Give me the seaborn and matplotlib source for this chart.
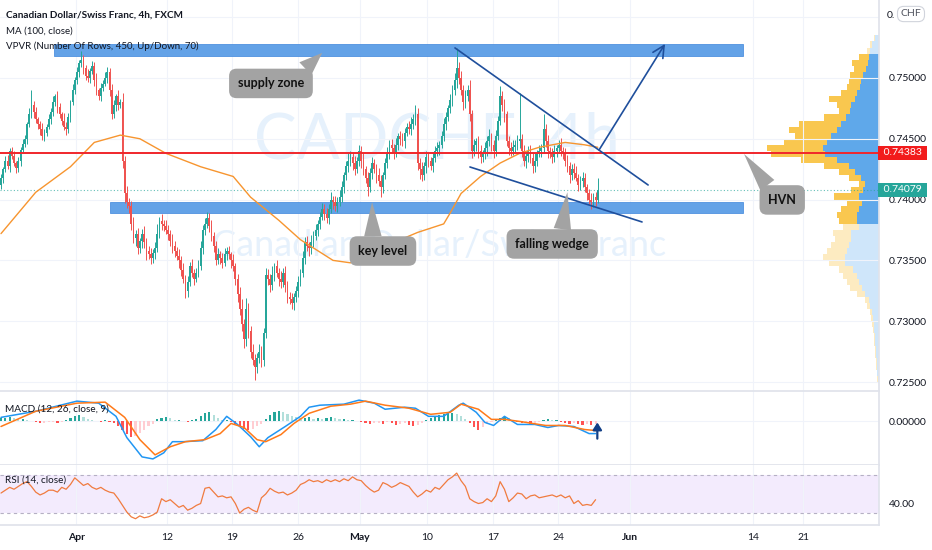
import numpy as np
import matplotlib
matplotlib.use("Agg")
import matplotlib.pyplot as plt
from matplotlib.patches import Rectangle
import seaborn as sns

# ---------------- data (prices in pips, 4h bars) ----------------
OPEN0 = 7412
CLOSES = [
    7418, 7425, 7432, 7428, 7440, 7436, 7430, 7426, 7432, 7441,
    7446, 7450, 7462, 7470, 7478, 7472, 7466, 7462, 7458, 7452,
    7455, 7460, 7466, 7472, 7480, 7485, 7476, 7470, 7465, 7460,
    7458, 7468, 7480, 7490, 7498, 7505, 7512, 7515, 7508, 7502,
    7500, 7506, 7510, 7498, 7490, 7485, 7492, 7495, 7500, 7505,
    7490, 7470, 7478, 7485, 7478, 7480, 7432, 7405, 7398, 7395,
    7380, 7368, 7372, 7360, 7366, 7372, 7365, 7358, 7355, 7352,
    7356, 7360, 7372, 7382, 7380, 7378, 7375, 7372, 7366, 7362,
    7358, 7354, 7350, 7342, 7335, 7325, 7332, 7345, 7340, 7335,
    7340, 7345, 7360, 7375, 7380, 7385, 7378, 7370, 7362, 7350,
    7355, 7352, 7348, 7355, 7358, 7355, 7350, 7345, 7335, 7322,
    7310, 7298, 7285, 7310, 7292, 7275, 7268, 7262, 7270, 7275,
    7268, 7290, 7338, 7335, 7330, 7338, 7345, 7340, 7335, 7332,
    7340, 7330, 7320, 7318, 7315, 7320, 7325, 7332, 7340, 7352,
    7365, 7362, 7360, 7365, 7370, 7375, 7380, 7386, 7392, 7388,
    7385, 7392, 7400, 7398, 7395, 7398, 7402, 7410, 7420, 7428,
    7432, 7435, 7430, 7425, 7432, 7440, 7432, 7425, 7418, 7410,
    7422, 7430, 7425, 7420, 7415, 7410, 7420, 7430, 7438, 7445,
    7442, 7438, 7445, 7452, 7450, 7448, 7455, 7460, 7458, 7462,
    7466, 7470, 7430, 7425, 7420, 7428, 7435, 7432, 7428, 7434,
    7440, 7442, 7445, 7452, 7462, 7468, 7475, 7482, 7490, 7498,
    7508, 7500, 7490, 7480, 7485, 7490, 7470, 7440, 7445, 7448,
    7440, 7435, 7438, 7442, 7448, 7452, 7445, 7440, 7452, 7465,
    7485, 7478, 7470, 7448, 7442, 7440, 7443, 7445, 7448, 7450,
    7440, 7432, 7436, 7440, 7434, 7428, 7432, 7438, 7440, 7442,
    7458, 7448, 7440, 7438, 7435, 7440, 7442, 7445, 7440, 7438,
    7432, 7428, 7420, 7425, 7422, 7418, 7412, 7415, 7418, 7410,
    7405, 7400, 7398, 7402, 7400, 7408,
]
WICK_UP = [
    3, 2, 4, 5, 2, 3, 4, 2, 3, 2, 4, 3, 2, 5, 12, 3, 4, 2, 3, 5,
    3, 2, 4, 3, 5, 2, 4, 3, 2, 6, 4, 3, 2, 5, 3, 4, 3, 7, 4, 3,
    5, 2, 4, 3, 6, 2, 4, 3, 5, 4, 3, 5, 4, 2, 5, 3, 8, 4, 6, 3,
    4, 6, 3, 5, 2, 4, 6, 3, 4, 5, 3, 5, 8, 4, 6, 3, 5, 4, 3, 6,
    4, 3, 5, 4, 6, 3, 5, 4, 6, 3, 4, 5, 6, 4, 5, 5, 4, 5, 3, 4,
    5, 3, 4, 5, 3, 4, 2, 5, 3, 4, 6, 8, 4, 9, 5, 4, 6, 5, 4, 6,
    5, 4, 6, 5, 4, 7, 3, 5, 4, 6, 4, 5, 3, 4, 5, 3, 4, 5, 3, 6,
    4, 5, 3, 6, 4, 5, 3, 4, 5, 4, 5, 4, 6, 3, 5, 4, 6, 5, 3, 4,
    6, 5, 4, 6, 3, 5, 4, 6, 3, 5, 4, 5, 3, 4, 6, 5, 3, 4, 5, 4,
    5, 4, 6, 3, 4, 5, 4, 3, 5, 6, 4, 8, 5, 4, 6, 3, 5, 4, 3, 5,
    4, 5, 3, 4, 5, 4, 3, 5, 4, 6, 17, 5, 6, 4, 5, 4, 8, 4, 5, 3,
    4, 5, 3, 5, 4, 6, 3, 4, 5, 4, 8, 4, 5, 3, 4, 5, 6, 4, 5, 38,
    4, 5, 3, 4, 5, 4, 6, 3, 5, 4, 12, 4, 5, 3, 4, 5, 3, 4, 6, 3,
    4, 5, 3, 4, 5, 6, 3, 4, 5, 4, 3, 4, 5, 3, 4, 10,
]
WICK_DN = [
    3, 4, 2, 3, 5, 3, 2, 4, 3, 4, 2, 3, 4, 2, 3, 5, 3, 4, 5, 3,
    4, 3, 2, 4, 3, 3, 5, 3, 4, 3, 5, 3, 4, 2, 3, 3, 4, 3, 5, 4,
    3, 4, 3, 5, 4, 3, 4, 3, 2, 4, 5, 4, 3, 5, 4, 3, 6, 8, 5, 6,
    5, 4, 6, 5, 4, 6, 5, 8, 4, 5, 4, 5, 3, 4, 5, 4, 3, 5, 4, 6,
    5, 4, 6, 5, 4, 6, 5, 3, 4, 5, 3, 4, 3, 5, 4, 3, 5, 4, 5, 4,
    3, 5, 4, 3, 5, 4, 6, 4, 5, 6, 5, 6, 7, 5, 6, 5, 4, 10, 5, 4,
    6, 5, 4, 5, 6, 4, 5, 4, 6, 5, 4, 6, 5, 4, 5, 6, 4, 5, 3, 4,
    5, 4, 6, 5, 4, 3, 5, 4, 3, 5, 4, 5, 3, 6, 4, 5, 3, 4, 5, 4,
    5, 4, 6, 5, 3, 4, 6, 5, 4, 7, 4, 5, 3, 6, 4, 8, 5, 3, 4, 5,
    4, 5, 3, 4, 5, 4, 6, 3, 4, 5, 4, 5, 6, 8, 5, 4, 6, 5, 4, 5,
    3, 4, 5, 3, 4, 5, 3, 4, 5, 4, 6, 5, 4, 6, 5, 4, 5, 6, 4, 5,
    6, 5, 4, 5, 6, 4, 5, 6, 4, 3, 4, 5, 6, 4, 5, 4, 3, 5, 4, 6,
    5, 4, 6, 5, 4, 6, 5, 4, 3, 5, 4, 5, 6, 4, 5, 4, 5, 3, 4, 5,
    4, 5, 6, 4, 5, 3, 5, 4, 5, 4, 5, 4, 6, 4, 5, 3,
]

# MA(100) read at a few bars
MA_BARS = [0, 16, 32, 43, 55, 64, 76, 92, 107, 115, 128, 138, 153, 161, 169, 184,
           192, 204, 207, 212, 221, 230, 239, 248, 260, 269, 275]
MA_VALS = [7372, 7406, 7427, 7447, 7453, 7450, 7438, 7427, 7419, 7402, 7383, 7367,
           7350, 7348, 7352, 7367, 7373, 7380, 7389, 7405, 7419, 7430, 7438, 7443,
           7447, 7445, 7443]

# MACD panel (arbitrary units, 0 = zero line)
MACD_BARS = [0, 16, 35, 45, 53, 58, 65, 70, 75, 79, 84, 93, 99, 104, 109, 115, 119,
             123, 131, 138, 142, 147, 158, 165, 172, 177, 186, 191, 197, 204, 211,
             213, 219, 223, 227, 232, 238, 246, 252, 257, 264, 271, 274]
MACD_VALS = [4, 10, 20, 18, 5, -16, -35, -37, -31, -20, -20, -19, -8, 5, -3, -15,
             -25, -16, -5, 5, 14, 16, 17, 21, 18, 12, 14, 13, 5, 5, 16, 18, 9, -1,
             -4, 5, -3, -3, -6, -4, -5, -12, -12]
SIGNAL_BARS = [0, 16, 35, 48, 57, 64, 71, 78, 85, 94, 101, 106, 112, 118, 122, 129,
               135, 142, 152, 161, 168, 177, 188, 198, 207, 212, 220, 226, 232, 239,
               251, 260, 269, 274]
SIGNAL_VALS = [-5, 10, 18, 19, 4, -18, -33, -25, -20, -18, -12, -2, -6, -18, -20,
               -13, -2, 8, 15, 17, 20, 16, 13, 7, 9, 17, 12, 2, 2, 0, -4, -4, -8, -9]
# histogram, one value every 2 bars
HIST = [3, 3, 4, 3, 2, 2, 1, 0,
        -1, -2, -2, -1, -1, -2, -1, 1,
        3, 5, 6, 4, 2,
        1, 0, -1, 1, -1, -2,
        -5, -8, -12, -15, -14, -11, -8, -5, -3,
        2, 3, 4, 3, 1,
        1, 0, -1, 1, 2,
        5, 8, 9, 6,
        3, 1, 1, -1, -3,
        -5, -7, -8, -7, -5, -3,
        2, 6, 9, 10, 9, 7, 5, 4,
        3, 3, 4, 2, 3, 2, 3, 4, 3, 2, 2, 1, 1, 0,
        -1, -2, -3, -2, -2, -3, -1, -2, -4, -3, -2, -4, -5, -4, -2,
        1, 3, 4, 6, 7, 8, 8, 7, 5, 2, -2,
        -6, -8, -6, -3,
        -1, 1, 3,
        4, 3, 1,
        -1, -2, -2, -3, -2, -1, 1, 2, 1, 1, -1, -2, -3, -2, -3, -4, -3, -4, -3]
# RSI(14), one value every 2 bars
RSI = [51, 54, 57, 55, 58, 61, 63, 58, 52, 49, 51, 54, 54, 52, 57, 55, 60, 67,
       63, 59, 61, 57, 55, 57, 54, 52, 51, 45, 38, 31, 26, 24, 27, 25, 26, 28,
       31, 45, 42, 44, 40, 36, 38, 33, 35, 38, 40, 56, 57, 52, 47, 48, 46, 47,
       40, 30, 34, 36, 33, 31, 46, 50, 56, 53, 51, 52, 49, 51, 54, 60, 62, 65,
       63, 64, 62, 65, 63, 65, 63, 66, 64, 68, 65, 64, 59, 55, 52, 54, 62, 60,
       57, 59, 62, 60, 58, 52, 47, 50, 54, 52, 57, 55, 60, 65, 68, 72, 64, 58,
       45, 42, 40, 41, 45, 42, 48, 63, 55, 42, 46, 51, 50, 45, 48, 49, 46, 47,
       48, 49, 47, 49, 46, 48, 40, 43, 38, 39, 38, 44]

# volume profile rows (5 pips each, from 7250 up to 7530)
VP_START, VP_STEP = 7250, 5
VP_UP = [1, 2, 2, 2, 3, 3, 4, 4, 5, 5,
         6, 7, 9, 10, 14, 17, 20, 22, 26, 34,
         34, 32, 30, 28, 28, 20, 22, 22, 20, 17,
         20, 16, 14, 18, 24, 30, 42, 54, 56, 52,
         48, 42, 38, 33, 29, 28, 24, 22, 19, 18,
         16, 13, 11, 10, 9, 7, 4]
VP_DN = [1, 0, 1, 1, 1, 1, 1, 1, 1, 2,
         2, 2, 3, 4, 8, 12, 12, 14, 14, 16,
         22, 20, 18, 16, 18, 16, 18, 20, 18, 15,
         25, 12, 6, 12, 16, 25, 36, 54, 56, 43,
         36, 48, 42, 22, 11, 14, 26, 16, 13, 12,
         13, 12, 16, 10, 3, 2, 1]
VA_LOW, VA_HIGH = 7380, 7515

HVN_PRICE = 0.74383
LAST_PRICE = 0.74079

PRICE_TICKS = [0.725, 0.730, 0.735, 0.740, 0.745, 0.750]
TICK_BARS = [34.6, 76.5, 106.5, 136.9, 165.4, 196.3, 226.7, 256.7, 289.9, 346.5, 369.6]
TICK_LABELS = ["Apr", "12", "19", "26", "May", "10", "17", "24", "Jun", "14", "21"]
MONTHS = {"Apr", "May", "Jun"}

# drawings
SUPPLY_ZONE = (24.4, 342.0, 0.7518, 0.75277)
KEY_ZONE = (50.2, 342.0, 0.73892, 0.73983)
WEDGE_UPPER = ((209.2, 0.75247), (298.2, 0.74120))
WEDGE_LOWER = ((216.1, 0.74268), (295.4, 0.73816))
BREAKOUT = ((275.6, 0.74408), (306.0, 0.75280))
CALLOUTS = [
    ("supply zone", (124.4, 0.74955), (148.0, 0.75206), (0.85, 0.85)),
    ("key level", (176.0, 0.73577), (171.0, 0.73980), (0.3, 0.85)),
    ("falling wedge", (254.0, 0.73635), (261.0, 0.74060), (0.62, 0.9)),
    ("HVN", (360.0, 0.73997), (342.4, 0.74375), (0.25, 0.85)),
]

UP_C, DN_C = "#26a69a", "#ef5350"
TEXT_C = "#131722"
GRID_C = "#f0f3fa"
LINE_C = "#1f4f9c"

# ---------------- figure ----------------
sns.set_theme(style="white")
plt.rcParams["font.family"] = ["Lato", "DejaVu Sans"]
plt.rcParams["axes.unicode_minus"] = False

W, H = 932, 550
fig = plt.figure(figsize=(W / 100, H / 100), dpi=100)


def box(x0, y0, x1, y1):
    return [x0 / W, 1 - y1 / H, (x1 - x0) / W, (y1 - y0) / H]


ax = fig.add_axes(box(0, 0, 879, 391))
vp = fig.add_axes(box(739, 0, 879, 391), sharey=ax)
ax_m = fig.add_axes(box(0, 391, 879, 465), sharex=ax)
ax_r = fig.add_axes(box(0, 465, 879, 525), sharex=ax)
vp.set_zorder(0)
ax.set_zorder(2)
ax.patch.set_visible(False)
vp.patch.set_visible(False)

XMIN, XMAX = -0.46, 404.6

# candles
c = np.array(CLOSES) / 1e4
o = np.concatenate([[OPEN0 / 1e4], c[:-1]])
hi = np.maximum(o, c) + np.array(WICK_UP) / 1e4
lo = np.minimum(o, c) - np.array(WICK_DN) / 1e4
xb = np.arange(len(c))
cols = np.where(c >= o, UP_C, DN_C)
ax.vlines(xb, lo, hi, colors=cols, lw=0.7, zorder=3)
ax.bar(xb, np.maximum(np.abs(c - o), 0.00004), bottom=np.minimum(o, c), width=0.8,
       color=cols, lw=0, zorder=3)

sns.lineplot(x=np.array(MA_BARS), y=np.array(MA_VALS) / 1e4, ax=ax, color="#f7952f",
             lw=1.0, zorder=4)

# zones
for x0, x1, y0, y1 in (SUPPLY_ZONE, KEY_ZONE):
    ax.add_patch(Rectangle((x0, y0), x1 - x0, y1 - y0, fc="#5b9de6", ec="#4a8ede",
                           lw=0.6, alpha=0.95, zorder=2))

ax.axhline(HVN_PRICE, color="#f0262b", lw=1.4, zorder=5)
ax.axhline(LAST_PRICE, color=UP_C, lw=0.8, ls=(0, (1, 2)), alpha=0.7, zorder=2)

for (p0, p1) in (WEDGE_UPPER, WEDGE_LOWER):
    ax.plot([p0[0], p1[0]], [p0[1], p1[1]], color=LINE_C, lw=1.2, zorder=6)
ax.annotate("", xy=BREAKOUT[1], xytext=BREAKOUT[0],
            arrowprops=dict(arrowstyle="->,head_length=0.7,head_width=0.35",
                            color=LINE_C, lw=1.2, shrinkA=0, shrinkB=0), zorder=6)

for label, center, tip, rel in CALLOUTS:
    ax.annotate(label, xy=tip, xytext=center, ha="center", va="center",
                fontsize=9, fontweight="bold", color="#111111", zorder=7,
                bbox=dict(boxstyle="round,pad=0.7,rounding_size=0.6", fc="#a3a3a3",
                          ec="none"),
                arrowprops=dict(arrowstyle="wedge,tail_width=0.7,shrink_factor=0.5",
                                fc="#a3a3a3", ec="none", relpos=rel, shrinkA=0,
                                shrinkB=0, mutation_scale=18))

# watermark
ax.text(0.497, 0.64, "CADCHF, 4h", transform=ax.transAxes, ha="center", va="center",
        fontsize=46, color="#e6f1fc", zorder=0.5)
ax.text(0.5, 0.372, "Canadian Dollar/Swiss Franc", transform=ax.transAxes,
        ha="center", va="center", fontsize=26, color="#e6f1fc", zorder=0.5)

# volume profile
lev = VP_START + VP_STEP * np.arange(len(VP_UP))
strong = (lev >= VA_LOW) & (lev <= VA_HIGH)
up_cols = np.where(strong, "#5fa8ea", "#cfe6fa")
dn_cols = np.where(strong, "#f9c74f", "#fdebc1")
vp.barh(lev / 1e4, VP_UP, left=0, height=VP_STEP / 1e4, align="edge", color=up_cols,
        lw=0)
vp.barh(lev / 1e4, VP_DN, left=VP_UP, height=VP_STEP / 1e4, align="edge",
        color=dn_cols, lw=0)
vp.set_xlim(140, 0)
vp.axis("off")

# price axis
ax.set_xlim(XMIN, XMAX)
ax.set_ylim(0.72426, 0.75641)
ax.yaxis.tick_right()
ax.set_yticks(PRICE_TICKS)
ax.set_yticklabels([f"{p:.5f}" for p in PRICE_TICKS])
ax.set_xticks(TICK_BARS)
ax.grid(True, color=GRID_C, lw=0.8)
ax.axhline(0.755, color=GRID_C, lw=0.8, zorder=0)
ax.tick_params(axis="y", length=0, pad=7, labelsize=7.5, labelcolor=TEXT_C)
ax.tick_params(axis="x", length=0, labelbottom=False)

ytr = ax.get_yaxis_transform()
ax.text(1.002, HVN_PRICE, " 0.74383 ", transform=ytr, ha="left", va="center",
        fontsize=7.5, color="white", clip_on=False, zorder=10,
        bbox=dict(boxstyle="square,pad=0.25", fc="#f21c1c", ec="none"))
ax.text(1.002, LAST_PRICE, " 0.74079 ", transform=ytr, ha="left", va="center",
        fontsize=7.5, color="white", clip_on=False, zorder=10,
        bbox=dict(boxstyle="square,pad=0.25", fc=UP_C, ec="none"))
# top price label partly hidden behind the currency badge
fig.text(887 / W, 1 - 16 / H, "0.", ha="left", va="center", fontsize=7.5, color=TEXT_C)
fig.text(911 / W, 1 - 14 / H, "CHF", ha="center", va="center", fontsize=7.5,
         color="#50535e", zorder=10,
         bbox=dict(boxstyle="round,pad=0.3,rounding_size=0.6", fc="white",
                   ec="#d1d4dc", lw=0.8))

# MACD panel
hist = np.array(HIST)
hx = np.arange(0, 2 * len(hist), 2)
prev = np.concatenate([[hist[0]], hist[:-1]])
hcols = np.where(hist >= 0, np.where(hist >= prev, "#26a69a", "#b2dfdb"),
                 np.where(hist < prev, "#ff5252", "#ffcdd2"))
ax_m.bar(hx, hist, width=1.0, color=hcols, lw=0, zorder=2)
sns.lineplot(x=np.array(MACD_BARS), y=MACD_VALS, ax=ax_m, color="#2196f3", lw=1.1,
             zorder=3)
sns.lineplot(x=np.array(SIGNAL_BARS), y=SIGNAL_VALS, ax=ax_m, color="#ff7a1a", lw=1.1,
             zorder=3)
ax_m.annotate("", xy=(274.8, -1), xytext=(274.8, -17),
              arrowprops=dict(arrowstyle="-|>,head_length=0.35,head_width=0.22",
                              color="#123f86", lw=1.6, shrinkA=0, shrinkB=0), zorder=5)
ax_m.set_ylim(-43, 30)
ax_m.yaxis.tick_right()
ax_m.set_yticks([0])
ax_m.set_yticklabels(["0.00000"])
ax_m.grid(True, color=GRID_C, lw=0.8)
ax_m.tick_params(axis="y", length=0, pad=7, labelsize=7.5, labelcolor=TEXT_C)
ax_m.tick_params(axis="x", length=0, labelbottom=False)
ax_m.text(0.006, 0.76, "MACD (12, 26, close, 9)", transform=ax_m.transAxes,
          fontsize=7.2, color=TEXT_C, va="center", zorder=6)

# RSI panel
ax_r.axhspan(30, 70, color="#f3ebfd", lw=0, zorder=0)
for lvl in (30, 70):
    ax_r.axhline(lvl, color="#b5b0c4", lw=0.8, ls=(0, (3, 3)), zorder=1)
sns.lineplot(x=np.arange(0, 2 * len(RSI), 2), y=RSI, ax=ax_r, color="#f07b3f",
             lw=0.9, zorder=3)
ax_r.set_ylim(17.4, 80.5)
ax_r.yaxis.tick_right()
ax_r.set_yticks([40])
ax_r.set_yticklabels(["40.00"])
ax_r.set_xticks(TICK_BARS)
ax_r.set_xticklabels(TICK_LABELS)
ax_r.grid(True, axis="x", color=GRID_C, lw=0.8)
ax_r.tick_params(axis="y", length=0, pad=7, labelsize=7.5, labelcolor=TEXT_C)
ax_r.tick_params(axis="x", length=0, pad=6, labelsize=7.5, labelcolor=TEXT_C)
for t in ax_r.get_xticklabels():
    if t.get_text() in MONTHS:
        t.set_fontweight("bold")
ax_r.text(0.006, 0.75, "RSI (14, close)", transform=ax_r.transAxes, fontsize=7.2,
          color=TEXT_C, va="center", zorder=6)

for a in (ax, ax_m, ax_r):
    a.set_xlabel("")
    a.set_ylabel("")
    for s in a.spines.values():
        s.set_visible(False)
    a.spines["right"].set_visible(True)
    a.spines["right"].set_color("#e0e3eb")
    a.spines["bottom"].set_visible(True)
    a.spines["bottom"].set_color("#e0e3eb")

# legend texts
fig.text(6 / W, 1 - 15 / H, "Canadian Dollar/Swiss Franc, 4h, FXCM", fontsize=7.2,
         fontweight="bold", color=TEXT_C, va="center")
fig.text(6 / W, 1 - 31 / H, "MA (100, close)", fontsize=7.0, color=TEXT_C,
         va="center")
fig.text(6 / W, 1 - 46 / H, "VPVR (Number Of Rows, 450, Up/Down, 70)", fontsize=7.0,
         color=TEXT_C, va="center", zorder=10)

fig.savefig("out.png", dpi=100)
